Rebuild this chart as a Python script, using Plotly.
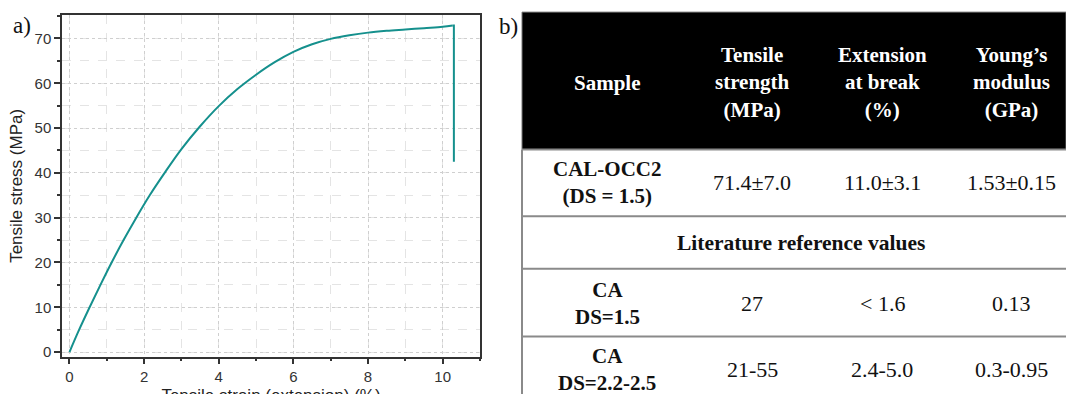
import plotly.graph_objects as go

# ---- data: stress-strain curve ----
strain = [0, 0.26, 0.54, 0.83, 1.13, 1.45, 1.79, 2.15, 2.55, 3.0, 3.5, 4.0, 4.5, 5.0, 5.5,
          6.0, 6.5, 7.0, 7.5, 8.0, 8.5, 9.0, 9.5, 10.0, 10.27, 10.3, 10.3]
stress = [0, 5, 10, 15, 20, 25, 30, 35, 40, 45.3, 50.4, 54.9, 58.7, 61.9, 64.7,
          67.0, 68.7, 69.9, 70.7, 71.3, 71.7, 72.0, 72.3, 72.6, 72.9, 72.9, 42.5]

x_ticks = [0, 2, 4, 6, 8, 10]
y_ticks = [0, 10, 20, 30, 40, 50, 60, 70]

# ---- data: table ----
header = ["Sample", "Tensile<br>strength<br>(MPa)", "Extension<br>at break<br>(%)", "Young’s<br>modulus<br>(GPa)"]
row_samples = ["CAL-OCC2<br>(DS = 1.5)", "CA<br>DS=1.5", "CA<br>DS=2.2-2.5"]
tensile_strength = ["71.4±7.0", "27", "21-55"]
extension_break = ["11.0±3.1", "< 1.6", "2.4-5.0"]
youngs_modulus = ["1.53±0.15", "0.13", "0.3-0.95"]
section_label = "Literature reference values"

W, H = 1066, 405
REF_H = 394
def px(x): return x / W
def py(y): return 1 - y / REF_H

teal = "#15908d"
fig = go.Figure()
# smooth loading curve (up to the break point)
fig.add_trace(go.Scatter(x=strain[:-2], y=stress[:-2], mode="lines", line_shape="spline",
                         line=dict(color=teal, width=2, smoothing=1.0),
                         showlegend=False, hoverinfo="skip"))
# break: short plateau and vertical drop
fig.add_trace(go.Scatter(x=strain[-3:], y=stress[-3:], mode="lines",
                         line=dict(color=teal, width=2), showlegend=False, hoverinfo="skip"))

axis_common = dict(showline=True, linecolor="#333", linewidth=1.5, mirror=True,
                   ticks="outside", ticklen=6, tickwidth=1.5, tickcolor="#333",
                   showgrid=True, gridcolor="#cfcfcf", griddash="dot", gridwidth=1,
                   zeroline=False,
                   tickfont=dict(family="Liberation Sans, Arial", size=15, color="#333"),
                   title_font=dict(family="Liberation Sans, Arial", size=17, color="#222"))

fig.update_xaxes(**axis_common, range=[-0.2, 11], tickvals=x_ticks,
                 domain=[px(62), px(480)],
                 minor=dict(dtick=1, tick0=0, ticks="outside", ticklen=3, tickcolor="#333",
                            showgrid=True, gridcolor="#e4e4e4", griddash="dash"),
                 title=dict(text="Tensile strain (extension) (%)", standoff=8))
fig.update_yaxes(**axis_common, range=[-1, 75.2], tickvals=y_ticks,
                 domain=[py(353), py(15)],
                 minor=dict(dtick=5, tick0=0, ticks="outside", ticklen=3, tickcolor="#333",
                            showgrid=True, gridcolor="#e4e4e4", griddash="dash"),
                 title=dict(text="Tensile stress (MPa)", standoff=8))

shapes = []
annotations = []
serif = "Liberation Serif, Times New Roman"

def note(x, y, text, size=21, color="#111"):
    annotations.append(dict(x=px(x), y=py(y), xref="paper", yref="paper", text=text,
                            showarrow=False, align="center", xanchor="center", yanchor="middle",
                            font=dict(family=serif, size=size, color=color)))

# panel labels
note(22, 25, "a)", size=23)
note(508, 26, "b)", size=23)

# table geometry
tx0, tx1 = 522, 1066
col_x = [607, 752, 882, 1011]
shapes.append(dict(type="rect", xref="paper", yref="paper", x0=px(tx0), x1=px(tx1),
                   y0=py(148), y1=py(12), fillcolor="black", line=dict(color="#777", width=1)))
for yy in [148, 214, 266, 333]:
    shapes.append(dict(type="line", xref="paper", yref="paper", x0=px(tx0), x1=px(tx1),
                       y0=py(yy), y1=py(yy), line=dict(color="#8a8a8a", width=2)))
shapes.append(dict(type="line", xref="paper", yref="paper", x0=px(tx0), x1=px(tx0),
                   y0=py(148), y1=0, line=dict(color="#8a8a8a", width=2)))

for cx, h in zip(col_x, header):
    note(cx, 82, f"<b>{h}</b>", color="white")

row_y = [181, 300, 366]
for i, ry in enumerate(row_y):
    note(col_x[0], ry, f"<b>{row_samples[i]}</b>")
    for cx, vals in zip(col_x[1:], [tensile_strength, extension_break, youngs_modulus]):
        note(cx, ry, vals[i], size=22)

note(801, 241, f"<b>{section_label}</b>", size=21.5)

fig.update_layout(width=W, height=H, autosize=False, margin=dict(l=0, r=0, t=0, b=0),
                  paper_bgcolor="white", plot_bgcolor="white",
                  shapes=shapes, annotations=annotations, showlegend=False)

fig.write_html("out.html", config={"responsive": False})
